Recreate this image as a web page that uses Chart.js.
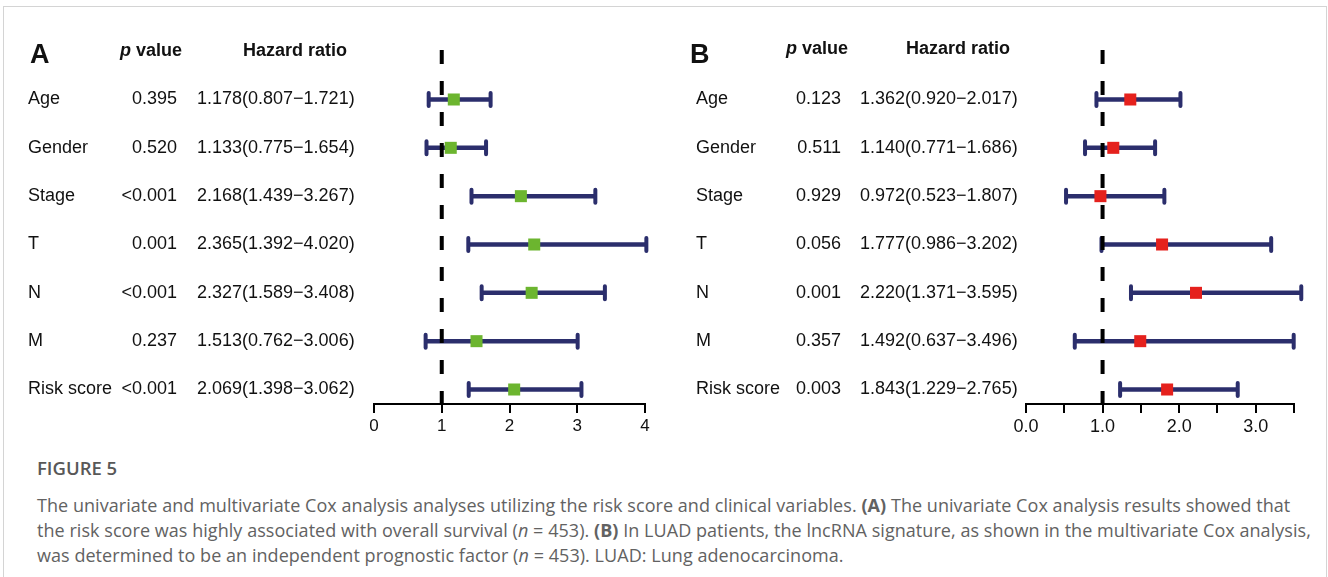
<!DOCTYPE html>
<html>
<head>
<meta charset="utf-8">
<script src="https://cdn.jsdelivr.net/npm/chart.js@4.4.1/dist/chart.umd.min.js"></script>
<style>
  html, body { margin:0; padding:0; background:#fff; overflow:hidden; }
  body { width:1328px; height:577px; position:relative; }
  #frame { position:absolute; left:3px; top:6px; width:1322px; height:600px; border:1px solid #d4d4d4; border-bottom:none; }
  canvas { position:absolute; top:0; }
  #cvA { left:0; }
  #cvB { left:664px; }
  #cap { position:absolute; left:37px; top:455px; font-family:"Open Sans", sans-serif; color:#626262; white-space:nowrap; }
  #cap .fig { font-size:18.5px; font-weight:600; color:#585858; margin-bottom:13px; }
  #cap .txt { font-size:18px; line-height:25px; letter-spacing:0.05px; }
</style>
</head>
<body>
<div id="frame"></div>
<canvas id="cvA" width="664" height="440"></canvas>
<canvas id="cvB" width="664" height="440"></canvas>
<div id="cap">
  <div class="fig">FIGURE 5</div>
  <div class="txt">The univariate and multivariate Cox analysis analyses utilizing the risk score and clinical variables. <b>(A)</b> The univariate Cox analysis results showed that<br>the risk score was highly associated with overall survival (<i>n</i> = 453). <b>(B)</b> In LUAD patients, the lncRNA signature, as shown in the multivariate Cox analysis,<br>was determined to be an independent prognostic factor (<i>n</i> = 453). LUAD: Lung adenocarcinoma.</div>
</div>
<script>
// forest plot data
const rows = ['Age', 'Gender', 'Stage', 'T', 'N', 'M', 'Risk score'];

// A: univariate
const pA  = ['0.395', '0.520', '<0.001', '0.001', '<0.001', '0.237', '<0.001'];
const hrA = [1.178, 1.133, 2.168, 2.365, 2.327, 1.513, 2.069];
const loA = [0.807, 0.775, 1.439, 1.392, 1.589, 0.762, 1.398];
const hiA = [1.721, 1.654, 3.267, 4.020, 3.408, 3.006, 3.062];

// B: multivariate
const pB  = ['0.123', '0.511', '0.929', '0.056', '0.001', '0.357', '0.003'];
const hrB = [1.362, 1.140, 0.972, 1.777, 2.220, 1.492, 1.843];
const loB = [0.920, 0.771, 0.523, 0.986, 1.371, 0.637, 1.229];
const hiB = [2.017, 1.686, 1.807, 3.202, 3.595, 3.496, 2.765];

const ticksA = [0, 1, 2, 3, 4];
const ticksB = [0, 0.5, 1, 1.5, 2, 2.5, 3, 3.5];

const NAVY = '#2b2e6c';
const FONT = '"Liberation Sans", Arial, sans-serif';
const fmt = v => v.toFixed(3);

const forestPlugin = {
  id: 'forest',
  beforeDatasetsDraw(chart, args, o) {
    const { ctx, chartArea } = chart;
    const xs = chart.scales.x, ys = chart.scales.y;
    ctx.save();
    // CI bars
    ctx.strokeStyle = NAVY;
    o.lo.forEach((lo, i) => {
      const y = ys.getPixelForValue(i);
      const x0 = xs.getPixelForValue(lo), x1 = xs.getPixelForValue(o.hi[i]);
      ctx.lineWidth = 4.5;
      ctx.lineCap = 'butt';
      ctx.beginPath(); ctx.moveTo(x0, y); ctx.lineTo(x1, y); ctx.stroke();
      ctx.lineWidth = 4;
      ctx.lineCap = 'round';
      ctx.beginPath();
      ctx.moveTo(x0, y - 6.5); ctx.lineTo(x0, y + 6.5);
      ctx.moveTo(x1, y - 6.5); ctx.lineTo(x1, y + 6.5);
      ctx.stroke();
    });
    // reference line at HR = 1
    const xr = xs.getPixelForValue(1);
    ctx.strokeStyle = '#000';
    ctx.lineWidth = 4;
    ctx.lineCap = 'butt';
    ctx.setLineDash([14, 17]);
    ctx.beginPath(); ctx.moveTo(xr, chartArea.top); ctx.lineTo(xr, chartArea.bottom); ctx.stroke();
    ctx.restore();
  },
  afterDraw(chart, args, o) {
    const { ctx } = chart;
    const ys = chart.scales.y;
    ctx.save();
    ctx.fillStyle = '#111';
    ctx.textBaseline = 'middle';
    // header
    ctx.font = 'bold 27px ' + FONT;
    ctx.textAlign = 'left';
    ctx.fillText(o.letter, o.letterX, 56);
    ctx.font = 'italic bold 18px ' + FONT;
    ctx.fillText('p', o.pHeadX, o.headY);
    const pw = ctx.measureText('p').width;
    ctx.font = 'bold 18px ' + FONT;
    ctx.fillText(' value', o.pHeadX + pw, o.headY);
    ctx.fillText('Hazard ratio', o.hrHeadX, o.headY);
    // rows
    ctx.font = '18px ' + FONT;
    rows.forEach((r, i) => {
      const y = ys.getPixelForValue(i);
      ctx.textAlign = 'left';
      ctx.fillText(r, o.labelX, y);
      ctx.textAlign = 'right';
      ctx.fillText(o.p[i], o.pRight, y);
      ctx.textAlign = 'left';
      ctx.fillText(fmt(o.hr[i]) + '(' + fmt(o.lo[i]) + '\u2212' + fmt(o.hi[i]) + ')', o.hrX, y);
    });
    ctx.restore();
  }
};

function forestChart(id, hr, lo, hi, p, ticks, color, padL, padR, decimals, fontSize, text) {
  return new Chart(document.getElementById(id), {
    type: 'scatter',
    data: { datasets: [{
      data: hr.map((v, i) => ({ x: v, y: i })),
      pointStyle: 'rect', pointRadius: 8.5, pointHoverRadius: 8.5,
      backgroundColor: color, borderColor: color, borderWidth: 0,
      clip: false
    }]},
    options: {
      responsive: false, animation: false,
      layout: { padding: { left: padL, right: padR, top: 50, bottom: 0 } },
      plugins: { legend: { display: false }, tooltip: { enabled: false },
        forest: Object.assign({ hr, lo, hi, p }, text) },
      scales: {
        x: {
          type: 'linear', min: ticks[0], max: ticks[ticks.length - 1],
          afterBuildTicks: axis => { axis.ticks = ticks.map(v => ({ value: v })); },
          afterFit: axis => { axis.height = 36; },
          grid: { drawOnChartArea: false, drawTicks: true, tickLength: 9, color: '#000', lineWidth: 2 },
          border: { display: true, color: '#000', width: 2 },
          ticks: { color: '#111', padding: 3, maxRotation: 0, autoSkip: false,
            font: { family: FONT, size: fontSize },
            callback: v => (v % 1 === 0 ? v.toFixed(decimals) : '') }
        },
        y: { display: false, min: -1.024, max: 6.30, reverse: true }
      }
    },
    plugins: [forestPlugin]
  });
}

forestChart('cvA', hrA, loA, hiA, pA, ticksA, '#6cb52f', 374, 19, 0, 17,
  { letter: 'A', letterX: 30, headY: 51, pHeadX: 120, hrHeadX: 243, labelX: 28, pRight: 177, hrX: 197 });
forestChart('cvB', hrB, loB, hiB, pB, ticksB, '#e5211d', 362, 34, 1, 18,
  { letter: 'B', letterX: 26, headY: 49, pHeadX: 122, hrHeadX: 242, labelX: 32, pRight: 177, hrX: 196 });
</script>
</body>
</html>
